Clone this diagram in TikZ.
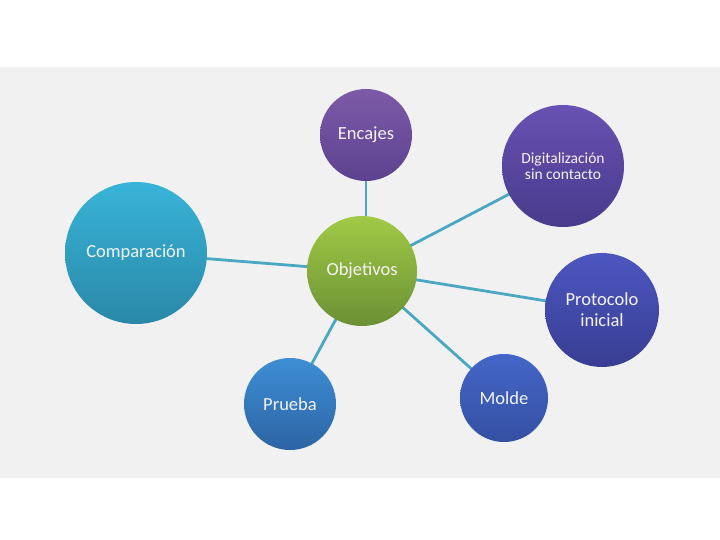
\documentclass[tikz,border=0pt]{standalone}
\usepackage{fontspec}
\setmainfont{Carlito}
\pgfdeclarelayer{band}
\pgfdeclarelayer{lines}
\pgfsetlayers{band,lines,main}
\definecolor{bandgray}{HTML}{F1F1F1}
\definecolor{linkcol}{HTML}{4AA8C2}
\definecolor{txt}{HTML}{F4F4F4}
\begin{document}
\begin{tikzpicture}[x=1pt,y=-1pt,
  bubble/.style={circle, inner sep=0pt, align=center, text=txt,
    font=\fontsize{18.5}{21}\selectfont},
  link/.style={draw=linkcol, line width=2.8pt}]
\useasboundingbox (0,0) rectangle (720,540);
\begin{pgfonlayer}{band}
  \fill[bandgray] (0,67) rectangle (720,478);
\end{pgfonlayer}
\node[bubble, minimum size=92pt, top color={rgb,255:red,125;green,90;blue,168}, bottom color={rgb,255:red,92;green,66;blue,144}] (enc) at (366,135) {Encajes};
\node[bubble, minimum size=122pt, top color={rgb,255:red,104;green,82;blue,178}, bottom color={rgb,255:red,72;green,58;blue,140}, font=\fontsize{15.5}{16.5}\selectfont] (dig) at (563,166) {Digitalización\\sin contacto};
\node[bubble, minimum size=142pt, top color={rgb,255:red,56;green,180;blue,216}, bottom color={rgb,255:red,42;green,136;blue,168}] (com) at (136,253) {Comparación};
\node[bubble, minimum size=110pt, top color={rgb,255:red,162;green,202;blue,70}, bottom color={rgb,255:red,106;green,144;blue,52}] (obj) at (362,271) {Objetivos};
\node[bubble, minimum size=114pt, top color={rgb,255:red,76;green,86;blue,192}, bottom color={rgb,255:red,56;green,62;blue,146}] (pro) at (602,310) {Protocolo\\inicial};
\node[bubble, minimum size=92pt, top color={rgb,255:red,62;green,142;blue,212}, bottom color={rgb,255:red,44;green,100;blue,164}] (pru) at (290,404) {Prueba};
\node[bubble, minimum size=88pt, top color={rgb,255:red,68;green,102;blue,200}, bottom color={rgb,255:red,52;green,80;blue,162}] (mol) at (504,398) {Molde};
\begin{pgfonlayer}{lines}
  \draw[link] (enc.center) -- (enc.center |- obj.center);
  \draw[link] (obj.center) -- (dig.center);
  \draw[link] (obj.center) -- (com.center);
  \draw[link] (obj.center) -- (pro.center);
  \draw[link] (obj.center) -- (pru.center);
  \draw[link] (obj.center) -- (mol.center);
\end{pgfonlayer}
\end{tikzpicture}
\end{document}
